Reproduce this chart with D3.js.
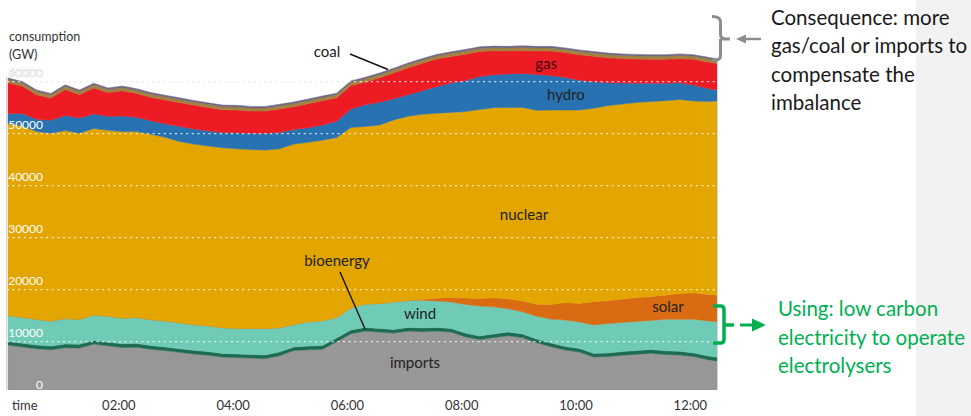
<!DOCTYPE html>
<html><head><meta charset="utf-8">
<script src="https://cdn.jsdelivr.net/npm/d3@7"></script>
<style>
html,body{margin:0;padding:0;background:#fff;}
svg{display:block;font-family:Lato,"Open Sans",sans-serif;}
</style></head>
<body><svg id="chart" width="971" height="416"></svg>
<script>
// ---- data (MW, every 15 minutes) ----
const times = ["00:00","00:15","00:30","00:45","01:00","01:15","01:30","01:45","02:00","02:15",
"02:30","02:45","03:00","03:15","03:30","03:45","04:00","04:15","04:30","04:45",
"05:00","05:15","05:30","05:45","06:00","06:15","06:30","06:45","07:00","07:15",
"07:30","07:45","08:00","08:15","08:30","08:45","09:00","09:15","09:30","09:45",
"10:00","10:15","10:30","10:45","11:00","11:15","11:30","11:45","12:00","12:15","12:30"];

const imports = [9350,9000,8650,8450,8850,8800,9550,9200,8900,8950,
8550,8300,7950,7650,7400,7050,6950,6850,6750,7300,
8300,8450,8550,10000,11550,12050,11850,11650,12050,11950,
12050,11850,10950,10400,10800,11150,10800,9800,9050,8400,
8000,7050,7150,7400,7600,7800,7550,7450,7150,6550,6150];

const bioenergy = [700,700,700,700,700,700,700,700,700,700,
700,700,700,700,700,700,700,700,700,700,
700,700,700,700,700,700,700,700,700,700,
700,700,700,700,700,700,700,700,700,700,
700,700,700,700,700,700,700,700,700,700,700];

const wind = [5000,5000,4950,4850,4900,4800,4900,5000,4950,5000,
5000,5000,5000,4950,4950,4950,4950,5000,5100,4700,
4300,4700,4800,3950,4250,4500,4800,5300,5200,5300,
5100,5100,5500,5750,5200,4500,4250,4400,4600,5050,
5100,5450,5650,5600,5600,5600,6050,6150,6450,6750,6900];

const solar = [0,0,0,0,0,0,0,0,0,0,
0,0,0,0,0,0,0,0,0,0,
0,0,0,0,0,0,0,0,0,200,
500,850,1250,1450,1750,1900,2100,2300,2800,3400,
3550,4500,4400,4500,4600,4600,4650,4950,5100,5100,5100];

const nuclear = [36900,36800,36100,36100,36150,35800,35850,35750,35850,35750,
35650,35300,34850,34700,34600,34600,34500,34400,34300,34400,
34700,34500,34700,34600,34700,34150,34300,35000,35400,35600,
35600,35600,35850,36350,36550,36800,37200,37300,37400,37000,
37200,37200,37500,37500,37500,37500,37400,37350,36900,37100,37500];

const hydro = [1950,2400,2400,2500,2900,2900,2800,2700,3000,2750,
2600,2600,2900,2900,2900,2950,3100,3150,3250,3150,
2800,2800,2900,3150,3550,4150,4400,4050,4150,4500,
5100,5650,5950,6350,6350,6450,6550,6900,6650,6250,
5750,5100,4400,4050,3700,3500,3350,3200,3000,2500,1850];

const gas = [5900,5250,4700,4250,5000,4500,5000,4550,4850,4600,
4500,4600,4600,4600,4500,4350,4350,4250,4250,4500,
4400,4600,4700,4500,4500,4400,4700,5000,5200,5300,
5300,5100,5100,4800,4600,4400,4400,4500,4700,4800,
4900,4900,4800,4700,4650,4600,4600,4650,5000,5100,5100];

const coal = [600,600,600,600,600,600,600,600,600,600,
600,600,600,600,600,600,600,600,600,600,
600,600,600,600,600,600,600,600,600,600,
600,600,600,600,600,600,600,600,600,600,
600,600,600,600,600,600,600,600,600,600,600];

const other = [300,300,300,300,300,300,300,300,300,300,
300,300,300,300,300,300,300,300,300,300,
300,300,300,300,300,300,300,300,300,300,
300,300,300,300,300,300,300,300,300,300,
300,300,300,300,300,300,300,300,300,300,300];

const seriesKeys = ["imports","bioenergy","wind","solar","nuclear","hydro","gas","coal","other"];
const seriesColors = ["#979797","#1d6b52","#70cbb6","#d96b12","#e3a600","#2872b2","#ed1c24","#a3823e","#716682"];
const yTickValues = [0,10000,20000,30000,40000,50000,60000];
const xTickValues = [2,4,6,8,10,12];
const xTickLabels = ["02:00","04:00","06:00","08:00","10:00","12:00"];

// ---- build ----
const seriesData = {imports,bioenergy,wind,solar,nuclear,hydro,gas,coal,other};
const hours = s => { const [h,m] = s.split(":").map(Number); return h + m/60; };
const rows = times.map((t,i) => {
  const r = {t: hours(t)};
  seriesKeys.forEach(k => r[k] = seriesData[k][i]);
  return r;
});

const svg = d3.select("#chart");
const x = d3.scaleLinear().domain([0,12.5]).range([8,722.4]);
const y = d3.scaleLinear().domain([0,60000]).range([393.7,81.7]);

// right grey panel
svg.append("rect").attr("x",916).attr("y",0).attr("width",55).attr("height",416).attr("fill","#f2f2f2");

// plot borders
svg.append("line").attr("x1",6.5).attr("x2",6.5).attr("y1",76).attr("y2",390).attr("stroke","#d6d6d6");
svg.append("line").attr("x1",717.5).attr("x2",717.5).attr("y1",58).attr("y2",390).attr("stroke","#d6d6d6");

// gridlines under (visible on white)
const gridG0 = svg.append("g");
yTickValues.filter(v=>v>0).forEach(v=>{
  gridG0.append("line").attr("x1",7).attr("x2",717).attr("y1",y(v)).attr("y2",y(v))
    .attr("stroke","#c9c9c9").attr("stroke-width",1.3).attr("stroke-dasharray","2 3.6");
});

svg.append("clipPath").attr("id","plotclip").append("rect")
  .attr("x",7).attr("y",0).attr("width",710).attr("height",390);

const stack = d3.stack().keys(seriesKeys);
const stacked = stack(rows);
const area = d3.area().x(d=>x(d.data.t)).y0(d=>y(d[0])).y1(d=>y(d[1]));

const plot = svg.append("g").attr("clip-path","url(#plotclip)");
plot.selectAll("path").data(stacked).join("path")
  .attr("d",area)
  .attr("fill",(d,i)=>seriesColors[i])
  .attr("stroke",(d,i)=>seriesColors[i])
  .attr("stroke-width",0.5);

// gridlines over areas (white dotted)
const gridG = svg.append("g");
yTickValues.filter(v=>v>0).forEach(v=>{
  gridG.append("line").attr("x1",7).attr("x2",717).attr("y1",y(v)).attr("y2",y(v))
    .attr("stroke","rgba(255,255,255,0.8)").attr("stroke-width",1.3).attr("stroke-dasharray","2 3.6");
});

// y tick labels (inside, white)
yTickValues.forEach(v=>{
  const t = svg.append("text").attr("x",43).attr("y",y(v)-5).attr("text-anchor","end")
    .attr("font-size",12).attr("fill","#fff").text(v);
  if (v===60000) t.attr("stroke","#9a9a9a").attr("stroke-width",0.5).attr("paint-order","stroke");
});

// axis titles
svg.append("text").attr("x",9).attr("y",41).attr("font-size",12.5).attr("fill","#333").text("consumption");
svg.append("text").attr("x",9).attr("y",59).attr("font-size",12.5).attr("fill","#333").text("(GW)");
svg.append("text").attr("x",12).attr("y",410).attr("font-size",13).attr("fill","#333").text("time");

// x axis labels
const xAxis = d3.axisBottom(x).tickValues(xTickValues).tickFormat((d,i)=>xTickLabels[i]).tickSize(0);
const gx = svg.append("g").attr("transform","translate(-4,398)").call(xAxis);
gx.select(".domain").remove();
gx.selectAll("text").attr("font-size",13).attr("fill","#333").attr("font-family","Lato,'Open Sans',sans-serif");

// series labels
const lab = (txt,xx,yy,col) => svg.append("text").attr("x",xx).attr("y",yy).attr("text-anchor","middle")
  .attr("font-size",15).attr("fill",col||"#222").text(txt);
lab("coal",327,57);
lab("gas",546,69,"#3a0d10");
lab("hydro",566,100);
lab("nuclear",524,220);
lab("bioenergy",337,266);
lab("wind",420,319);
lab("solar",668,312);
lab("imports",415,368);

// leader lines
svg.append("line").attr("x1",350).attr("y1",54).attr("x2",388).attr("y2",69.5).attr("stroke","#111").attr("stroke-width",1.4);
svg.append("line").attr("x1",340).attr("y1",272).attr("x2",365).attr("y2",329).attr("stroke","#111").attr("stroke-width",1.4);

// grey bracket + arrow
const grey = "#8c8c8c";
svg.append("path").attr("d","M712,16.5 Q720.5,16.5 720.5,22 V34 Q720.5,39 726,39 M720.5,39 V56 Q720.5,60.5 712,60.5 M720.5,39 H730")
  .attr("fill","none").attr("stroke",grey).attr("stroke-width",3);
svg.append("line").attr("x1",744).attr("y1",39).attr("x2",761).attr("y2",39).attr("stroke",grey).attr("stroke-width",2.5);
svg.append("path").attr("d","M736,39 L746,34.5 L746,43.5 Z").attr("fill",grey);

// green bracket + arrow
const green = "#00b050";
svg.append("path").attr("d","M713,306 H721 Q724,306 724,310 V339 Q724,343 721,343 H713 M724,325 H734")
  .attr("fill","none").attr("stroke",green).attr("stroke-width",3.5);
svg.append("line").attr("x1",740).attr("y1",325).attr("x2",754).attr("y2",325).attr("stroke",green).attr("stroke-width",3);
svg.append("path").attr("d","M766,325 L752,318.5 L752,331.5 Z").attr("fill",green);

// annotation texts
const grey2 = ["Consequence: more","gas/coal or imports to","compensate the","imbalance"];
grey2.forEach((s,i)=>svg.append("text").attr("x",771).attr("y",25+i*28.4).attr("font-size",20.5).attr("fill","#1a1a1a").text(s));
const greenTxt = ["Using: low carbon","electricity to operate","electrolysers"];
greenTxt.forEach((s,i)=>svg.append("text").attr("x",778).attr("y",316+i*28.7).attr("font-size",20.5).attr("fill",green).text(s));
</script>
</body></html>
